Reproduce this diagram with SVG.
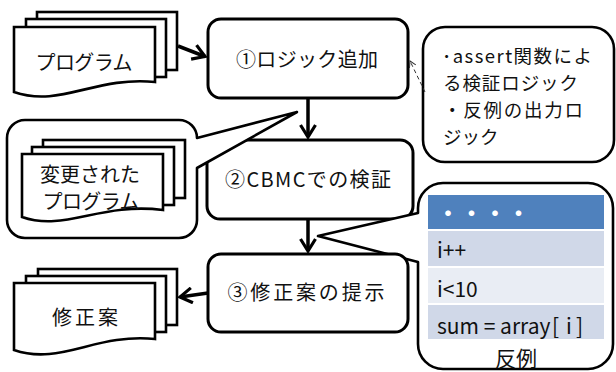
<svg xmlns="http://www.w3.org/2000/svg" width="616" height="372" viewBox="0 0 616 372">
<style>
.bg{fill:#ffffff}
.box{fill:#ffffff;stroke:#000;stroke-width:3}
.doc{fill:#ffffff;stroke:#000;stroke-width:2.6;stroke-linejoin:miter}
.callout{fill:#ffffff;stroke:#000;stroke-width:2.6;stroke-linejoin:round}
.t{font-family:"Noto Sans CJK JP","Noto Sans",sans-serif;font-size:20px;fill:#111}
.ct{font-family:"Noto Sans CJK JP","Noto Sans",sans-serif;font-size:18.5px;fill:#111}
.c{text-anchor:middle}
.tb{font-family:"Noto Sans CJK JP","Noto Sans",sans-serif;font-size:21px;fill:#111}
.arrow{fill:none;stroke:#000;stroke-width:3.5}
.dash{fill:none;stroke:#333;stroke-width:1;stroke-dasharray:4 3}
</style>
<defs>
<marker id="ah" markerUnits="userSpaceOnUse" viewBox="-14 -9 16 18" markerWidth="16" markerHeight="18" refX="0" refY="0" orient="auto">
<path d="M-12,-7.5 L0,0 L-12,7.5" fill="none" stroke="#000" stroke-width="3.2"/>
</marker>
<marker id="ahs" markerUnits="userSpaceOnUse" viewBox="-8 -5 10 10" markerWidth="10" markerHeight="10" refX="0" refY="0" orient="auto">
<path d="M-6,-3.5 L0,0 L-6,3.5" fill="none" stroke="#333" stroke-width="1"/>
</marker>
</defs>
<rect class="bg" x="0" y="0" width="616" height="372"/>

<g id="step1">
<rect class="box" x="208" y="19" width="200" height="79" rx="13"/>
<text class="t c" x="307" y="67" textLength="142" lengthAdjust="spacing">①ロジック追加</text>
</g>

<g id="step2">
<rect class="box" x="207" y="140" width="206" height="79" rx="13"/>
<text class="t c" x="308" y="187" textLength="166" lengthAdjust="spacing">②CBMCでの検証</text>
</g>

<g id="callout-modified">
<path class="callout" d="M25,120 H179 A18 18 0 0 1 197 138 L297,112 L197,168 V220 A18 18 0 0 1 179 238 H25 A18 18 0 0 1 7 220 V138 A18 18 0 0 1 25 120 Z"/>
</g>

<g id="modified-program">
<rect class="doc" x="43" y="140" width="142" height="58"/>
<rect class="doc" x="32" y="147" width="142" height="58"/>
<path class="doc" d="M22,154 H163 V210 C100,202 65,232 22,217 Z"/>
<text class="t c" x="90" y="182" textLength="100" lengthAdjust="spacing">変更された</text>
<text class="t c" x="91" y="209" textLength="97" lengthAdjust="spacing">プログラム</text>
</g>

<g id="callout-counterexample">
<path class="callout" d="M443,183 H588 A25 25 0 0 1 613 208 V344 A25 25 0 0 1 588 369 H443 A25 25 0 0 1 418 344 V262 L318,236 L418,213 V208 A25 25 0 0 1 443 183 Z"/>
<rect x="428" y="195" width="176" height="34" fill="#4F81BD"/>
<rect x="428" y="231" width="176" height="35" fill="#D0D8E8"/>
<rect x="428" y="268" width="176" height="35" fill="#E9EDF4"/>
<rect x="428" y="305" width="176" height="34" fill="#D0D8E8"/>
<text x="437" y="221" font-family="'Noto Sans CJK JP',sans-serif" font-size="22" font-weight="bold" fill="#ffffff" letter-spacing="1.5">・・・・</text>
<text class="tb" x="437" y="258">i++</text>
<text class="tb" x="437" y="297">i&lt;10</text>
<text class="tb" x="437" y="334">sum = array<tspan x="552">[</tspan><tspan x="566">i</tspan><tspan x="576">]</tspan></text>
<text class="tb c" x="516" y="366">反例</text>
</g>

<g id="step3">
<rect class="box" x="208" y="254" width="200" height="78" rx="13"/>
<text class="t c" x="306" y="300" textLength="157" lengthAdjust="spacing">③修正案の提示</text>
</g>

<g id="callout-logic">
<rect class="callout" x="423" y="27" width="191" height="135" rx="22"/>
<text class="ct" x="442" y="63" textLength="150" lengthAdjust="spacing">･assert関数によ</text>
<text class="ct" x="443" y="90" textLength="135" lengthAdjust="spacing">る検証ロジック</text>
<text class="ct" x="443" y="117" textLength="140" lengthAdjust="spacing">・反例の出力ロ</text>
<text class="ct" x="443" y="144">ジック</text>
</g>

<g id="program">
<rect class="doc" x="37" y="12" width="140" height="58"/>
<rect class="doc" x="26" y="19" width="140" height="58"/>
<path class="doc" d="M14,27 H155 V82 C95,76 60,108 14,92 Z"/>
<text class="t c" x="84" y="70" textLength="97" lengthAdjust="spacing">プログラム</text>
</g>

<g id="fix-proposal">
<rect class="doc" x="38" y="269" width="139" height="56"/>
<rect class="doc" x="26" y="276" width="140" height="56"/>
<path class="doc" d="M14,283 H155 V339 C95,333 60,366 14,350 Z"/>
<text class="t c" x="85" y="325" textLength="66" lengthAdjust="spacing">修正案</text>
</g>

<g id="connectors">
<line class="arrow" x1="178" y1="46" x2="205" y2="56.5" marker-end="url(#ah)"/>
<line class="arrow" x1="308" y1="98" x2="308" y2="137" marker-end="url(#ah)"/>
<line class="arrow" x1="308" y1="219" x2="308" y2="251" marker-end="url(#ah)"/>
<line class="arrow" x1="208" y1="293" x2="180" y2="297" marker-end="url(#ah)"/>
<line class="dash" x1="425" y1="92" x2="410" y2="61" marker-end="url(#ahs)"/>
</g>
</svg>
